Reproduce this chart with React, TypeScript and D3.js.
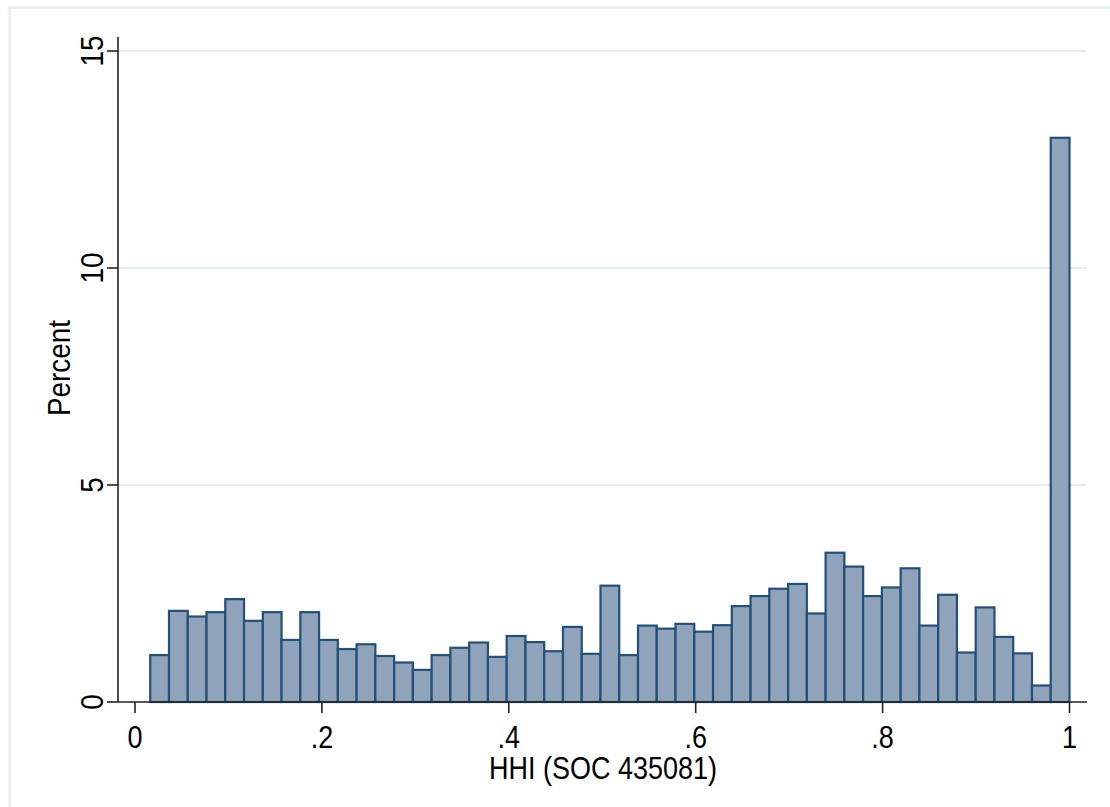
import React from 'react';
import * as d3 from 'd3';

// percent per bin (49 bins from min HHI up to 1)
const percents = [
  1.08, 2.1, 1.97, 2.07, 2.37, 1.87, 2.07, 1.43, 2.07, 1.43,
  1.22, 1.33, 1.06, 0.91, 0.74, 1.08, 1.25, 1.37, 1.04, 1.52,
  1.38, 1.17, 1.73, 1.11, 2.68, 1.08, 1.76, 1.69, 1.8, 1.62,
  1.77, 2.21, 2.44, 2.61, 2.72, 2.04, 3.44, 3.12, 2.44, 2.64,
  3.08, 1.76, 2.47, 1.14, 2.18, 1.5, 1.12, 0.38, 13.0
];
const binStart = 0.0163;
const binEnd = 1;
const xTicks = [0, 0.2, 0.4, 0.6, 0.8, 1];
const xTickLabels = ['0', '.2', '.4', '.6', '.8', '1'];
const yTicks = [0, 5, 10, 15];
const xTitle = 'HHI (SOC 435081)';
const yTitle = 'Percent';

const W = 1110;
const H = 807;
const font = '"Liberation Sans", Arial, sans-serif';
const squeeze = 'scale(0.87,1)'; // Stata text renders a bit condensed

export default function App() {
  const x = d3.scaleLinear().domain([0, 1]).range([135, 1069.5]);
  const y = d3.scaleLinear().domain([0, 15]).range([702, 51]);
  const binWidth = (binEnd - binStart) / percents.length;

  const axisLeft = 118;
  const axisRight = 1087;
  const axisTop = 37;

  return (
    <svg width={W} height={H} style={{ position: 'absolute', left: 0, top: 0, background: '#fff' }}>
      {/* graph region frame */}
      <rect x={9.5} y={7.5} width={1300} height={1000} fill="none" stroke="#eaf2f3" strokeWidth={3} />

      {/* gridlines */}
      {yTicks.filter(t => t > 0).map(t => (
        <line key={'g' + t} x1={axisLeft} x2={axisRight} y1={y(t)} y2={y(t)} stroke="#e6eff1" strokeWidth={2} />
      ))}

      {/* bars */}
      {percents.map((p, i) => {
        const x0 = x(binStart + i * binWidth);
        const x1 = x(binStart + (i + 1) * binWidth);
        return (
          <rect key={i} x={x0} y={y(p)} width={x1 - x0} height={y(0) - y(p)}
            fill="#8fa4ba" stroke="#234f78" strokeWidth={2.2} />
        );
      })}

      {/* axes */}
      <line x1={axisLeft} x2={axisLeft} y1={axisTop} y2={y(0)} stroke="#222" strokeWidth={1.6} />
      <line x1={axisLeft} x2={axisRight} y1={y(0)} y2={y(0)} stroke="#222" strokeWidth={1.6} />

      {yTicks.map(t => (
        <g key={'y' + t}>
          <line x1={axisLeft - 11} x2={axisLeft} y1={y(t)} y2={y(t)} stroke="#222" strokeWidth={1.6} />
          <text transform={`translate(103,${y(t)}) rotate(-90) ${squeeze}`} textAnchor="middle"
            fontFamily={font} fontSize={32} fill="#000">{t}</text>
        </g>
      ))}

      {xTicks.map((t, i) => (
        <g key={'x' + t}>
          <line x1={x(t)} x2={x(t)} y1={y(0)} y2={y(0) + 11} stroke="#222" strokeWidth={1.6} />
          <text transform={`translate(${x(t)},748) ${squeeze}`} textAnchor="middle"
            fontFamily={font} fontSize={31} fill="#000">
            {xTickLabels[i]}
          </text>
        </g>
      ))}

      <text transform={`translate(603,779) ${squeeze}`} textAnchor="middle"
        fontFamily={font} fontSize={31} fill="#000">{xTitle}</text>
      <text transform={`translate(70,368) rotate(-90) ${squeeze}`} textAnchor="middle"
        fontFamily={font} fontSize={32} fill="#000">{yTitle}</text>
    </svg>
  );
}
